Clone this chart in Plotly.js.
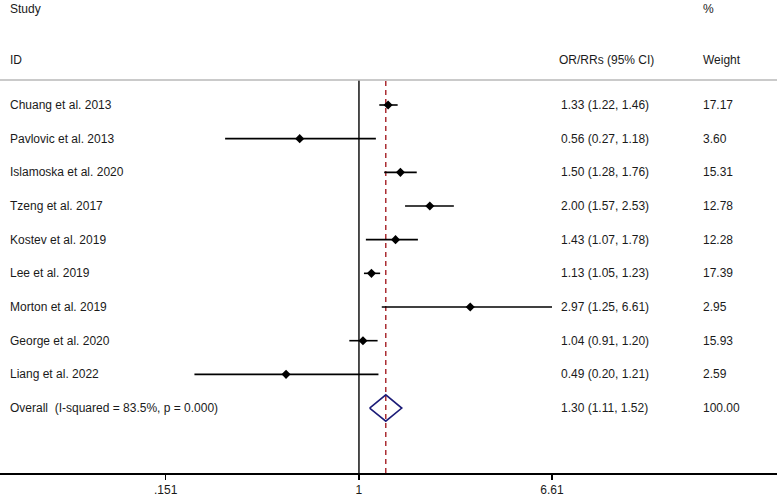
<!DOCTYPE html>
<html>
<head>
<meta charset="utf-8">
<script src="https://cdn.plot.ly/plotly-3.0.1.min.js"></script>
<style>html,body{margin:0;padding:0;background:#fff}#plot{width:777px;height:498px}</style>
</head>
<body>
<div id="plot"></div>
<script>
var studies = ['Chuang et al. 2013', 'Pavlovic et al. 2013', 'Islamoska et al. 2020', 'Tzeng et al. 2017',
  'Kostev et al. 2019', 'Lee et al. 2019', 'Morton et al. 2019', 'George et al. 2020', 'Liang et al. 2022'];
var est = [1.33, 0.56, 1.50, 2.00, 1.43, 1.13, 2.97, 1.04, 0.49];
var lo  = [1.22, 0.27, 1.28, 1.57, 1.07, 1.05, 1.25, 0.91, 0.20];
var hi  = [1.46, 1.18, 1.76, 2.53, 1.78, 1.23, 6.61, 1.20, 1.21];
var weights = ['17.17', '3.60', '15.31', '12.78', '12.28', '17.39', '2.95', '15.93', '2.59'];

var overallLabel = 'Overall  (I-squared = 83.5%, p = 0.000)';
var overall = {est: 1.30, lo: 1.11, hi: 1.52, weight: '100.00'};

var tickVals = [0.151, 1, 6.61];
var tickText = ['.151', '1', '6.61'];

var rows = studies.map(function (s, i) { return i + 1; });
var overallRow = studies.length + 1;
var yRange = [11.93, 0.2575];

function fmt(v) { return v.toFixed(2); }

var ciTrace = {
  x: est, y: rows, type: 'scatter', mode: 'markers',
  marker: {symbol: 'diamond', size: 7, color: '#000'},
  error_x: {type: 'data', symmetric: false,
    array: hi.map(function (h, i) { return h - est[i]; }),
    arrayminus: lo.map(function (l, i) { return est[i] - l; }),
    color: '#000', thickness: 1.6, width: 0},
  hoverinfo: 'skip'
};

var h = 0.39;
var diamond = {
  x: [overall.lo, overall.est, overall.hi, overall.est, overall.lo],
  y: [overallRow, overallRow - h, overallRow, overallRow + h, overallRow],
  type: 'scatter', mode: 'lines',
  line: {color: '#1c1c78', width: 1.6}, hoverinfo: 'skip'
};

var nullLine = {
  x: [1, 1], y: yRange, type: 'scatter', mode: 'lines',
  line: {color: '#000', width: 1.4}, hoverinfo: 'skip'
};

var overallLine = {
  x: [overall.est, overall.est], y: yRange, type: 'scatter', mode: 'lines',
  line: {color: '#a51f24', width: 1.4, dash: '5px,4px'}, hoverinfo: 'skip'
};

var font = {family: 'Liberation Sans, Arial, sans-serif', size: 12, color: '#1a1a1a'};
var annotations = [];
function txt(x, y, text, yref) {
  annotations.push({xref: 'paper', yref: yref || 'y', x: x, y: y, text: text,
    showarrow: false, xanchor: 'left', yanchor: 'middle', font: font, borderpad: 0});
}
var colStudy = 9 / 777, colOR = 560 / 777, colW = 702 / 777;
studies.forEach(function (s, i) {
  txt(colStudy, rows[i], s);
  txt(colOR, rows[i], fmt(est[i]) + ' (' + fmt(lo[i]) + ', ' + fmt(hi[i]) + ')');
  txt(colW, rows[i], weights[i]);
});
txt(colStudy, overallRow, overallLabel);
txt(colOR, overallRow, fmt(overall.est) + ' (' + fmt(overall.lo) + ', ' + fmt(overall.hi) + ')');
txt(colW, overallRow, overall.weight);
txt(colStudy, (473 - 9) / 393, 'Study', 'paper');
txt(colW, (473 - 9) / 393, '%', 'paper');
txt(colStudy, (473 - 60) / 393, 'ID', 'paper');
txt(558 / 777, (473 - 60) / 393, 'OR/RRs (95% CI)', 'paper');
txt(colW, (473 - 60) / 393, 'Weight', 'paper');

var layout = {
  width: 777, height: 498,
  margin: {l: 0, r: 0, t: 80, b: 25},
  paper_bgcolor: '#fff', plot_bgcolor: '#fff',
  showlegend: false,
  xaxis: {type: 'log', range: [-1.525, 1.776], tickvals: tickVals, ticktext: tickText,
    showgrid: false, zeroline: false, showline: true, linecolor: '#000', linewidth: 1.6,
    ticks: 'outside', ticklen: 5, tickcolor: '#000', tickwidth: 1.2,
    tickfont: font},
  yaxis: {range: yRange, showgrid: false, zeroline: false, showticklabels: false, showline: false},
  shapes: [{type: 'line', xref: 'paper', yref: 'paper', x0: 0, x1: 1, y0: 1, y1: 1,
    line: {color: '#b8b8b8', width: 1.5}}],
  annotations: annotations
};

Plotly.newPlot('plot', [nullLine, overallLine, ciTrace, diamond], layout, {displayModeBar: false, staticPlot: true});
</script>
</body>
</html>
